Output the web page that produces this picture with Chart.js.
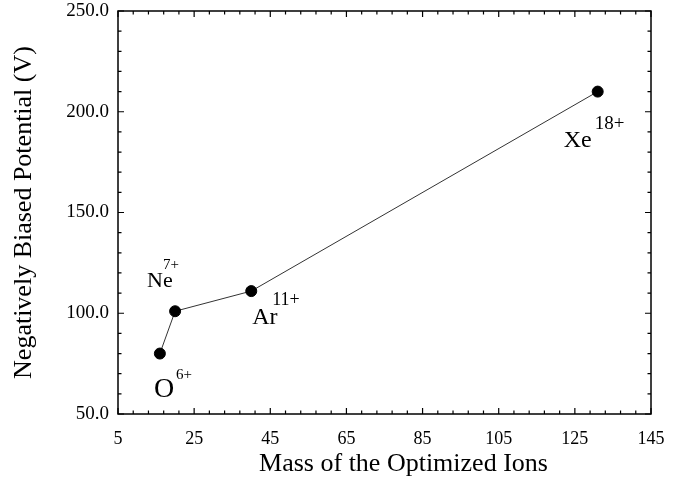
<!DOCTYPE html>
<html>
<head>
<meta charset="utf-8">
<script src="https://cdn.jsdelivr.net/npm/chart.js@4.4.1/dist/chart.umd.min.js"></script>
<style>
  html, body { margin: 0; padding: 0; background: #fff; }
  #wrap { width: 674px; height: 484px; }
</style>
</head>
<body>
<div id="wrap"><canvas id="ionChart" width="674" height="484"></canvas></div>
<script>
// valores
const ions = ['O', 'Ne', 'Ar', 'Xe'];
const charges = ['6+', '7+', '11+', '18+'];
const masses = [16, 20, 40, 131];
const potentials = [80, 101, 111, 210];
const xTicks = [5, 25, 45, 65, 85, 105, 125, 145];
const yTicks = [50, 100, 150, 200, 250];

const serif = "'Liberation Serif', 'DejaVu Serif', serif";

// etiquetas de los iones (desplazamiento respecto al punto)
const ionLabelStyle = [
    { dx: -6, dy: 43, size: 28, sdx: 16, sdy: 25, ssize: 15 },
    { dx: -28, dy: -24, size: 22, sdx: -12, sdy: -42, ssize: 15 },
    { dx: 1, dy: 33, size: 24, sdx: 21, sdy: 14, ssize: 18 },
    { dx: -34, dy: 55, size: 24, sdx: -3, sdy: 37, ssize: 19 }
];

const framePlugin = {
    id: 'framePlugin',
    afterDraw(chart) {
        const ctx = chart.ctx;
        const { left, right, top, bottom } = chart.chartArea;
        const xs = chart.scales.x;
        const ys = chart.scales.y;
        ctx.save();
        ctx.strokeStyle = '#000';
        ctx.lineWidth = 1.5;
        ctx.strokeRect(left, top, right - left, bottom - top);

        // marcas hacia dentro en los cuatro lados
        ctx.lineWidth = 1.2;
        ctx.beginPath();
        for (let v = xTicks[0]; v <= xTicks[xTicks.length - 1]; v += 4) {
            const px = xs.getPixelForValue(v);
            const len = xTicks.includes(v) ? 6 : 3.5;
            ctx.moveTo(px, bottom); ctx.lineTo(px, bottom - len);
            ctx.moveTo(px, top); ctx.lineTo(px, top + len);
        }
        for (let v = yTicks[0]; v <= yTicks[yTicks.length - 1]; v += 10) {
            const py = ys.getPixelForValue(v);
            const len = yTicks.includes(v) ? 6 : 3.5;
            ctx.moveTo(left, py); ctx.lineTo(left + len, py);
            ctx.moveTo(right, py); ctx.lineTo(right - len, py);
        }
        ctx.stroke();

        // etiquetas O6+, Ne7+ ...
        ctx.fillStyle = '#000';
        ctx.textAlign = 'left';
        ctx.textBaseline = 'alphabetic';
        ions.forEach((ion, i) => {
            const px = xs.getPixelForValue(masses[i]);
            const py = ys.getPixelForValue(potentials[i]);
            const s = ionLabelStyle[i];
            ctx.font = s.size + 'px ' + serif;
            ctx.fillText(ion, px + s.dx, py + s.dy);
            ctx.font = s.ssize + 'px ' + serif;
            ctx.fillText(charges[i], px + s.sdx, py + s.sdy);
        });

        // titulo del eje x
        ctx.font = '26px ' + serif;
        ctx.textAlign = 'center';
        ctx.fillText('Mass of the Optimized Ions', (left + right) / 2 + 19, 471);
        ctx.restore();
    }
};

const ctx = document.getElementById('ionChart').getContext('2d');
new Chart(ctx, {
    type: 'scatter',
    data: {
        datasets: [{
            label: 'Potential',
            data: masses.map((m, i) => ({ x: m, y: potentials[i] })),
            showLine: true,
            borderColor: '#333',
            borderWidth: 1,
            backgroundColor: '#000',
            pointBackgroundColor: '#000',
            pointBorderColor: '#000',
            pointRadius: 5.5,
            pointHoverRadius: 5.5
        }]
    },
    options: {
        responsive: false,
        animation: false,
        layout: { padding: { top: 11, right: 23, left: 0, bottom: 0 } },
        plugins: {
            legend: { display: false },
            tooltip: { enabled: false }
        },
        scales: {
            x: {
                type: 'linear',
                min: xTicks[0],
                max: xTicks[xTicks.length - 1],
                afterBuildTicks: scale => { scale.ticks = xTicks.map(v => ({ value: v })); },
                afterFit: scale => {
                    scale.height = 70;
                    scale.paddingLeft = 0;
                    scale.paddingRight = 0;
                },
                grid: { display: false, drawTicks: false },
                border: { display: false },
                ticks: {
                    color: '#000',
                    padding: 14,
                    maxRotation: 0,
                    font: { family: serif, size: 18 }
                },
                title: { display: false }
            },
            y: {
                type: 'linear',
                min: yTicks[0],
                max: yTicks[yTicks.length - 1],
                afterBuildTicks: scale => { scale.ticks = yTicks.map(v => ({ value: v })); },
                afterFit: scale => {
                    scale.width = 118;
                    scale.paddingTop = 0;
                    scale.paddingBottom = 0;
                },
                grid: { display: false, drawTicks: false },
                border: { display: false },
                ticks: {
                    color: '#000',
                    padding: 9,
                    font: { family: serif, size: 19 },
                    callback: v => v.toFixed(1)
                },
                title: {
                    display: true,
                    text: 'Negatively Biased Potential (V)',
                    color: '#000',
                    padding: { top: 9, bottom: 0 },
                    font: { family: serif, size: 26 }
                }
            }
        }
    },
    plugins: [framePlugin]
});
</script>
</body>
</html>
